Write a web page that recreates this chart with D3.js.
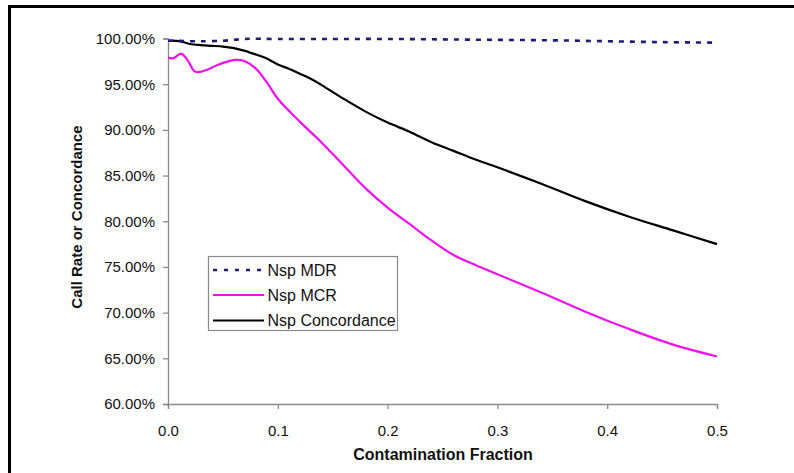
<!DOCTYPE html>
<html>
<head>
<meta charset="utf-8">
<script src="https://cdn.jsdelivr.net/npm/d3@7/dist/d3.min.js"></script>
<style>
  html, body { margin: 0; padding: 0; background: #ffffff; }
  svg { display: block; }
  text { font-family: "Liberation Sans", Arial, sans-serif; }
</style>
</head>
<body>
<svg id="chart" width="794" height="473"></svg>
<script>
// ---- data ----
const seriesNames = ["Nsp MDR", "Nsp MCR", "Nsp Concordance"];

const mdrX = [0.00, 0.01, 0.02, 0.03, 0.05, 0.07, 0.10, 0.15, 0.20, 0.25, 0.30, 0.35, 0.40, 0.45, 0.50];
const mdrY = [99.75, 99.75, 99.70, 99.70, 99.75, 99.95, 99.95, 99.95, 99.95, 99.90, 99.85, 99.80, 99.70, 99.60, 99.55];

const mcrX = [0.000, 0.005, 0.012, 0.018, 0.025, 0.035, 0.045, 0.055, 0.062, 0.070, 0.080, 0.090, 0.10, 0.12, 0.14, 0.16, 0.18, 0.20, 0.22, 0.24, 0.26, 0.28, 0.30, 0.34, 0.38, 0.42, 0.46, 0.50];
const mcrY = [97.9, 97.85, 98.35, 97.6, 96.35, 96.55, 97.1, 97.5, 97.65, 97.5, 96.7, 95.2, 93.4, 90.9, 88.6, 86.1, 83.6, 81.5, 79.7, 77.9, 76.3, 75.2, 74.2, 72.2, 70.1, 68.2, 66.5, 65.2];

const concX = [0.00, 0.01, 0.02, 0.03, 0.04, 0.05, 0.06, 0.07, 0.08, 0.09, 0.10, 0.11, 0.12, 0.13, 0.14, 0.16, 0.18, 0.20, 0.22, 0.24, 0.26, 0.28, 0.30, 0.34, 0.38, 0.42, 0.46, 0.50];
const concY = [99.75, 99.72, 99.40, 99.28, 99.20, 99.12, 98.95, 98.65, 98.25, 97.80, 97.15, 96.70, 96.15, 95.60, 94.90, 93.40, 92.00, 90.80, 89.80, 88.65, 87.70, 86.75, 85.90, 84.10, 82.20, 80.50, 79.00, 77.50];

const yTicks = [60, 65, 70, 75, 80, 85, 90, 95, 100];
const xTicks = [0.0, 0.1, 0.2, 0.3, 0.4, 0.5];
const xTitle = "Contamination Fraction";
const yTitle = "Call Rate or Concordance";

// ---- layout ----
const svg = d3.select("#chart");
const plotLeft = 168, plotRight = 717, plotTop = 38.5, plotBottom = 404;

const x = d3.scaleLinear().domain([0, 0.5]).range([plotLeft, plotRight]);
const y = d3.scaleLinear().domain([60, 100]).range([plotBottom, plotTop]);

// outer frame
svg.append("rect")
  .attr("x", 9.5).attr("y", 6.5)
  .attr("width", 800).attr("height", 480)
  .attr("fill", "#ffffff")
  .attr("stroke", "#000000").attr("stroke-width", 3);

// axes
const axisColor = "#8a8a8a";
const yAxis = svg.append("g")
  .attr("transform", `translate(${plotLeft},0)`)
  .call(d3.axisLeft(y).tickValues(yTicks).tickSize(5).tickPadding(8)
    .tickFormat(d => d.toFixed(2) + "%"));
const xAxis = svg.append("g")
  .attr("transform", `translate(0,${plotBottom})`)
  .call(d3.axisBottom(x).tickValues(xTicks).tickSize(5).tickPadding(16)
    .tickFormat(d3.format(".1f")));

[yAxis, xAxis].forEach(g => {
  g.selectAll("path, line").attr("stroke", axisColor).attr("stroke-width", 1.3);
  g.selectAll("text").attr("fill", "#111").style("font-size", "15px")
    .style("font-family", "'Liberation Sans', Arial, sans-serif");
});

// titles
svg.append("text")
  .attr("x", 443).attr("y", 460)
  .attr("text-anchor", "middle")
  .style("font-size", "16px").style("font-weight", "bold")
  .attr("fill", "#111")
  .text(xTitle);

svg.append("text")
  .attr("transform", "translate(82,217) rotate(-90)")
  .attr("text-anchor", "middle")
  .style("font-size", "15px").style("font-weight", "bold")
  .attr("fill", "#111")
  .text(yTitle);

// lines
const line = d3.line()
  .x(d => x(d[0])).y(d => y(d[1]))
  .curve(d3.curveCatmullRom.alpha(0.5));

const styles = [
  { color: "#1b1b78", width: 2.6, dash: "5,6" },
  { color: "#ee11ee", width: 2.2, dash: null },
  { color: "#000000", width: 2.2, dash: null }
];
const series = [
  d3.zip(mdrX, mdrY),
  d3.zip(mcrX, mcrY),
  d3.zip(concX, concY)
];

[1, 2, 0].forEach(i => {
  svg.append("path")
    .datum(series[i])
    .attr("fill", "none")
    .attr("stroke", styles[i].color)
    .attr("stroke-width", styles[i].width)
    .attr("stroke-dasharray", styles[i].dash)
    .attr("d", line);
});

// legend
const lg = svg.append("g");
lg.append("rect")
  .attr("x", 208.5).attr("y", 256.5)
  .attr("width", 189).attr("height", 74)
  .attr("fill", "#ffffff")
  .attr("stroke", "#8a8a8a").attr("stroke-width", 1.2);

const legY = [270, 295, 320.5];
seriesNames.forEach((name, i) => {
  lg.append("line")
    .attr("x1", 213).attr("x2", 264)
    .attr("y1", legY[i]).attr("y2", legY[i])
    .attr("stroke", styles[i].color)
    .attr("stroke-width", styles[i].width)
    .attr("stroke-dasharray", styles[i].dash ? "4,7" : null);
  lg.append("text")
    .attr("x", 267.5).attr("y", legY[i])
    .attr("dy", "0.35em")
    .style("font-size", "16px")
    .attr("fill", "#111")
    .text(name);
});
</script>
</body>
</html>
